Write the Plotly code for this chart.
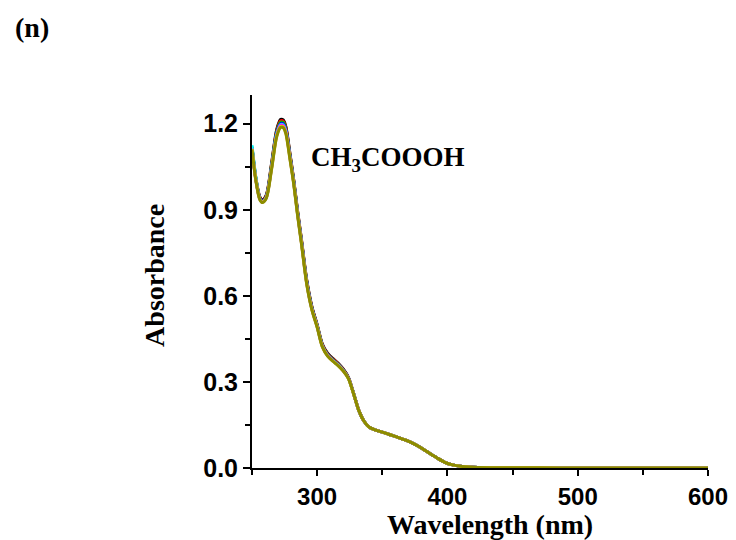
import plotly.graph_objects as go

# Wavelength grid (nm)
wavelength = [250, 253, 256, 258, 261, 265, 269, 272, 274, 276, 279, 282, 285, 288,
              292, 296, 300, 304, 308, 312, 316, 320, 324, 328, 332,
              336, 340, 345, 350, 356, 362, 368, 374, 380, 386, 392, 398, 404,
              410, 420, 440, 470, 500, 550, 600]

# Common absorbance beyond 336 nm (all spectra overlap there)
tail = [0.163, 0.142, 0.132, 0.125, 0.116, 0.107, 0.097, 0.085, 0.070, 0.052,
        0.035, 0.020, 0.011, 0.006, 0.003, 0.001, 0.0005, 0.0003, 0.0002, 0.0001]

abs_black = [1.120, 1.010, 0.945, 0.935, 0.952, 1.060, 1.180, 1.215, 1.213, 1.190, 1.100, 1.005, 0.895,
             0.795, 0.655, 0.562, 0.500, 0.432, 0.400, 0.382, 0.366, 0.345, 0.316, 0.260, 0.201] + tail
abs_red = [1.118, 1.008, 0.943, 0.933, 0.950, 1.057, 1.176, 1.210, 1.209, 1.186, 1.097, 1.003, 0.893,
           0.793, 0.653, 0.560, 0.498, 0.430, 0.398, 0.380, 0.364, 0.344, 0.315, 0.260, 0.201] + tail
abs_green = [1.116, 1.006, 0.941, 0.931, 0.948, 1.054, 1.172, 1.205, 1.204, 1.182, 1.094, 1.000, 0.890,
             0.790, 0.650, 0.558, 0.496, 0.428, 0.396, 0.378, 0.362, 0.342, 0.314, 0.259, 0.200] + tail
abs_blue = [1.115, 1.005, 0.940, 0.930, 0.946, 1.050, 1.168, 1.200, 1.199, 1.178, 1.091, 0.998, 0.888,
            0.788, 0.648, 0.556, 0.495, 0.426, 0.394, 0.376, 0.361, 0.341, 0.314, 0.259, 0.200] + tail
abs_cyan = [1.125, 1.012, 0.938, 0.928, 0.944, 1.047, 1.164, 1.197, 1.196, 1.175, 1.088, 0.996, 0.886,
            0.786, 0.646, 0.554, 0.494, 0.425, 0.393, 0.375, 0.360, 0.340, 0.313, 0.259, 0.200] + tail
abs_magenta = [1.113, 1.003, 0.937, 0.927, 0.943, 1.045, 1.161, 1.194, 1.193, 1.172, 1.086, 0.994, 0.884,
               0.784, 0.644, 0.553, 0.493, 0.424, 0.392, 0.374, 0.359, 0.339, 0.313, 0.258, 0.200] + tail
abs_yellow = [1.112, 1.002, 0.936, 0.926, 0.942, 1.043, 1.158, 1.190, 1.189, 1.168, 1.083, 0.992, 0.882,
              0.782, 0.642, 0.552, 0.492, 0.423, 0.391, 0.373, 0.358, 0.339, 0.312, 0.258, 0.200] + tail
abs_olive = [1.110, 1.000, 0.935, 0.925, 0.940, 1.040, 1.155, 1.187, 1.186, 1.165, 1.080, 0.990, 0.880,
             0.780, 0.640, 0.550, 0.490, 0.422, 0.390, 0.372, 0.357, 0.338, 0.312, 0.258, 0.200] + tail

series = [
    (abs_black, "#000000"),
    (abs_red, "#FF0000"),
    (abs_green, "#00C000"),
    (abs_blue, "#0000FF"),
    (abs_cyan, "#00FFFF"),
    (abs_magenta, "#FF00FF"),
    (abs_yellow, "#E8E800"),
    (abs_olive, "#8C8C00"),
]

x_ticks = [300, 400, 500, 600]
y_ticks = [0.0, 0.3, 0.6, 0.9, 1.2]
y_labels = ["0.0", "0.3", "0.6", "0.9", "1.2"]

SANS = "Arial, 'Liberation Sans', sans-serif"
SERIF = "'Times New Roman', 'Liberation Serif', serif"

fig = go.Figure()
for values, color in series:
    fig.add_trace(go.Scatter(
        x=wavelength, y=values, mode="lines",
        line=dict(color=color, width=3, shape="spline", smoothing=0.8),
        showlegend=False, hoverinfo="skip",
    ))

fig.update_layout(
    width=736, height=540,
    margin=dict(l=252, r=28, t=95, b=72, autoexpand=False),
    paper_bgcolor="white", plot_bgcolor="white",
    showlegend=False,
)

fig.update_xaxes(
    range=[250, 600], automargin=False,
    tickvals=x_ticks,
    ticks="outside", ticklen=6, tickwidth=2, tickcolor="black",
    minor=dict(dtick=50, tick0=250, ticks="outside", ticklen=5, tickwidth=2, tickcolor="black"),
    showline=True, linecolor="black", linewidth=2,
    showgrid=False, zeroline=False,
    tickfont=dict(family=SANS, size=24, color="black", weight="bold"),
)

fig.update_yaxes(
    range=[0, 1.3], automargin=False,
    tickvals=y_ticks, ticktext=y_labels,
    ticks="outside", ticklen=7, tickwidth=2, tickcolor="black",
    minor=dict(dtick=0.15, tick0=0, ticks="outside", ticklen=5, tickwidth=2, tickcolor="black"),
    showline=True, linecolor="black", linewidth=2,
    showgrid=False, zeroline=False,
    tickfont=dict(family=SANS, size=25, color="black", weight="bold"),
)

title_font = dict(family=SERIF, size=28, color="black", weight="bold")

# Axis titles
fig.add_annotation(
    x=0.522, y=-0.152, xref="paper", yref="paper", xanchor="center", yanchor="middle",
    text="Wavelength (nm)", showarrow=False, font=title_font,
)
fig.add_annotation(
    x=-0.2127, y=0.515, xref="paper", yref="paper", xanchor="center", yanchor="middle",
    text="Absorbance", textangle=-90, showarrow=False, font=title_font,
)

fig.add_annotation(
    x=294, y=1.078, xref="x", yref="y", xanchor="left", yanchor="middle",
    text="CH<sub>3</sub>COOOH", showarrow=False,
    font=dict(family=SERIF, size=27, color="black", weight="bold"),
)

fig.add_annotation(
    x=-0.482, y=1.18, xref="paper", yref="paper", xanchor="center", yanchor="middle",
    text="(n)", showarrow=False,
    font=dict(family=SERIF, size=28, color="black", weight="bold"),
)

fig.write_html("out.html")
